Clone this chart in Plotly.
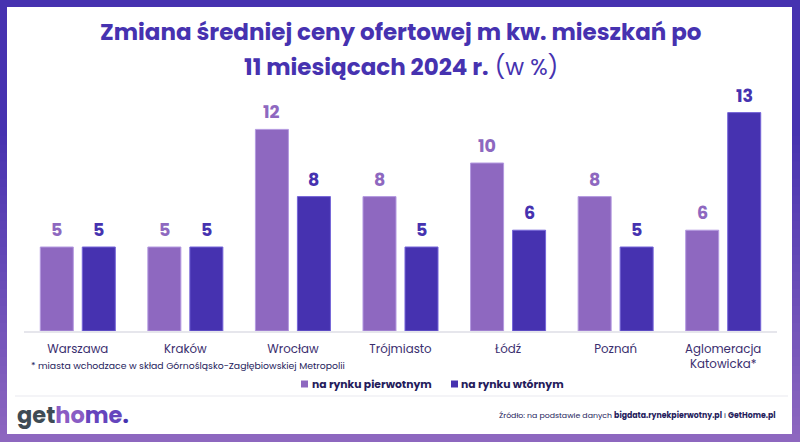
import plotly.graph_objects as go

categories = ["Warszawa", "Kraków", "Wrocław", "Trójmiasto", "Łódź", "Poznań", "Aglomeracja<br>Katowicka*"]
primary_values = [5, 5, 12, 8, 10, 8, 6]
secondary_values = [5, 5, 8, 5, 6, 5, 13]
series_names = ["na rynku pierwotnym", "na rynku wtórnym"]

C_PRIM = "#8E68C0"
C_SEC = "#4632B0"
C_TEXT = "#251c5c"
FONT = "Poppins, Inter, Lato, sans-serif"

W, H = 800, 442
ML, MR, MT, MB = 24, 23, 96, 111
PW = W - ML - MR
PH = H - MT - MB


def px(x):
    return (x - ML) / PW


def py(y):
    return (H - MB - y) / PH


fig = go.Figure()
fig.add_trace(go.Bar(x=categories, y=primary_values, name=series_names[0],
                     marker=dict(color=C_PRIM, line=dict(color="#b49ae0", width=1))))
fig.add_trace(go.Bar(x=categories, y=secondary_values, name=series_names[1],
                     marker=dict(color=C_SEC, line=dict(color="#7565d8", width=1))))

bargap = 0.219
bargroupgap = 0.214
slot = PW / len(categories) * (1 - bargap) / 2
annotations = []
for cat, v in zip(categories, primary_values):
    annotations.append(dict(x=cat, y=v, xref="x", yref="y", text=f"<b>{v}</b>", showarrow=False,
                            xshift=-slot / 2, yshift=3, yanchor="bottom",
                            font=dict(family=FONT, size=17.5, color=C_PRIM)))
for cat, v in zip(categories, secondary_values):
    annotations.append(dict(x=cat, y=v, xref="x", yref="y", text=f"<b>{v}</b>", showarrow=False,
                            xshift=slot / 2, yshift=3, yanchor="bottom",
                            font=dict(family=FONT, size=17.5, color=C_SEC)))

# titles
annotations.append(dict(x=0.5, xref="paper", y=py(32), yref="paper", showarrow=False,
                        text="<b>Zmiana średniej ceny ofertowej m kw. mieszkań po</b>",
                        font=dict(family=FONT, size=23, color=C_SEC), yanchor="middle"))
annotations.append(dict(x=0.5, xref="paper", y=py(67), yref="paper", showarrow=False,
                        text="<b>11 miesiącach 2024 r.</b> (w %)",
                        font=dict(family=FONT, size=23, color=C_SEC), yanchor="middle"))
# footnote
annotations.append(dict(x=px(29), xref="paper", y=py(365), yref="paper", showarrow=False,
                        xanchor="left", yanchor="middle",
                        text="* miasta wchodzace w skład Górnośląsko-Zagłębiowskiej Metropolii",
                        font=dict(family=FONT, size=9.3, color=C_TEXT)))
# legend
annotations.append(dict(x=px(310), xref="paper", y=py(384), yref="paper", showarrow=False,
                        xanchor="left", yanchor="middle",
                        text=f"<b>{series_names[0]}</b>",
                        font=dict(family=FONT, size=10.8, color=C_TEXT)))
annotations.append(dict(x=px(459), xref="paper", y=py(384), yref="paper", showarrow=False,
                        xanchor="left", yanchor="middle",
                        text=f"<b>{series_names[1]}</b>",
                        font=dict(family=FONT, size=10.8, color=C_TEXT)))
# source
annotations.append(dict(x=px(778), xref="paper", y=py(415), yref="paper", showarrow=False,
                        xanchor="right", yanchor="middle",
                        text="Źródło: na podstawie danych <b>bigdata.rynekpierwotny.pl</b> i <b>GetHome.pl</b>",
                        font=dict(family=FONT, size=7.8, color=C_TEXT)))
# logo
annotations.append(dict(x=px(15), xref="paper", y=py(415), yref="paper", showarrow=False,
                        xanchor="left", yanchor="middle",
                        text="<b><span style='color:#3e4b54'>get</span><span style='color:#8a5cc4'>ho</span>"
                             "<span style='color:#6545bd'>me</span><span style='color:#4632B0'>.</span></b>",
                        font=dict(family=FONT, size=22.5, color="#3e4b54")))

# frame: vertical gradient strips + white panel
shapes = []
n = 52
c0 = (0x46, 0x32, 0xB0)
c1 = (0x8E, 0x68, 0xC0)
for i in range(n):
    y0 = H * i / n
    y1 = H * (i + 1) / n + 0.5
    t = max(0.0, ((y0 + y1) / 2 - 130) / (H - 130))
    col = "rgb(%d,%d,%d)" % tuple(int(a + (b - a) * t) for a, b in zip(c0, c1))
    shapes.append(dict(type="rect", xref="paper", yref="paper", x0=px(0), x1=px(W),
                       y0=py(y0), y1=py(y1), fillcolor=col, line=dict(width=0), layer="below"))
shapes.append(dict(type="rect", xref="paper", yref="paper", x0=px(7), x1=px(792),
                   y0=py(7), y1=py(434), fillcolor="white", line=dict(width=0), layer="below"))
shapes.append(dict(type="line", xref="paper", yref="paper", x0=px(15), x1=px(788),
                   y0=py(396), y1=py(396), line=dict(color="#e9e9ef", width=1), layer="below"))
# legend swatches
shapes.append(dict(type="rect", xref="paper", yref="paper", x0=px(301), x1=px(308),
                   y0=py(380.5), y1=py(387.5), fillcolor=C_PRIM, line=dict(width=0)))
shapes.append(dict(type="rect", xref="paper", yref="paper", x0=px(451), x1=px(458),
                   y0=py(380.5), y1=py(387.5), fillcolor=C_SEC, line=dict(width=0)))

fig.update_layout(
    width=W, height=H,
    margin=dict(l=ML, r=MR, t=MT, b=MB),
    barmode="group", bargap=bargap, bargroupgap=bargroupgap,
    showlegend=False,
    paper_bgcolor="#6a4cb8", plot_bgcolor="rgba(0,0,0,0)",
    xaxis=dict(showline=True, linecolor="#e6e6ec", linewidth=1.5, ticks="",
               tickfont=dict(family=FONT, size=11.8, color="#3a2e6e"), showgrid=False,
               automargin=False, ticklabelstandoff=6),
    yaxis=dict(range=[0, PH / 16.8], visible=False, showgrid=False, zeroline=False,
               automargin=False),
    annotations=annotations,
    shapes=shapes,
)

fig.write_html("out.html", post_script="document.body.style.margin='0';",
               config={"displayModeBar": False})
